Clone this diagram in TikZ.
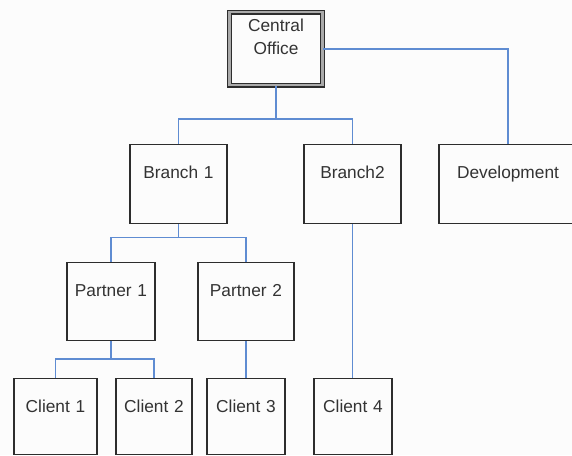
\documentclass[tikz,border=0pt]{standalone}
\usepackage{fontspec}
\setmainfont{Liberation Sans}
\definecolor{bg}{RGB}{252,252,252}
\definecolor{bordc}{RGB}{45,45,45}
\definecolor{connc}{RGB}{95,140,210}
\definecolor{dblc}{RGB}{170,170,170}
\tikzset{
  box/.style={draw=bordc, line width=1.4pt, inner sep=0pt, anchor=north,
    align=center, text height=34pt, font=\fontsize{17.3}{23}\selectfont, text=black!80},
  conn/.style={draw=connc, line width=1.7pt}
}
\begin{document}
\begin{tikzpicture}[x=1pt,y=-1pt]
\useasboundingbox (0,0) rectangle (572,455);
\fill[bg] (0,0) rectangle (572,455);
\clip (0,0) rectangle (572,455);
% nodes
\node[box, draw=bordc, double=dblc, double distance=2.2pt, line width=1.3pt,
      text width=93pt, text height=19.5pt, text depth=53.5pt] (co) at (276,11.5) {Central\\Office};
\node[box, text width=97pt, text depth=45pt] (b1) at (178.5,144) {Branch 1};
\node[box, text width=97pt, text depth=45pt] (b2) at (352.5,144) {Branch2};
\node[box, text width=138pt, text depth=45pt] (dev) at (508,144) {Development};
\node[box, text width=88pt, text depth=44pt, text height=33.5pt] (p1) at (111,262) {Partner 1};
\node[box, text width=96pt, text depth=44pt, text height=33.5pt] (p2) at (246,262) {Partner 2};
\node[box, text width=83pt, text depth=42.5pt, text height=33.5pt] (c1) at (55.5,378) {Client 1};
\node[box, text width=76pt, text depth=42.5pt, text height=33.5pt] (c2) at (154,378) {Client 2};
\node[box, text width=78pt, text depth=42.5pt, text height=33.5pt] (c3) at (246,378) {Client 3};
\node[box, text width=78pt, text depth=42.5pt, text height=33.5pt] (c4) at (353,378) {Client 4};
% connectors
\draw[conn] (co.south) -- ++(0,33) -| (b1.north);
\draw[conn] (co.south) -- ++(0,33) -| (b2.north);
\draw[conn] (co.east) -| (dev.north);
\draw[conn] (b1.south) -- ++(0,13) -| (p1.north);
\draw[conn] (b1.south) -- ++(0,13) -| (p2.north);
\draw[conn] (p1.south) -- ++(0,18) -| (c1.north);
\draw[conn] (p1.south) -- ++(0,18) -| (c2.north);
\draw[conn] (p2.south) -- (c3.north);
\draw[conn] (b2.south) -- (b2.south |- c4.north);
\end{tikzpicture}
\end{document}
